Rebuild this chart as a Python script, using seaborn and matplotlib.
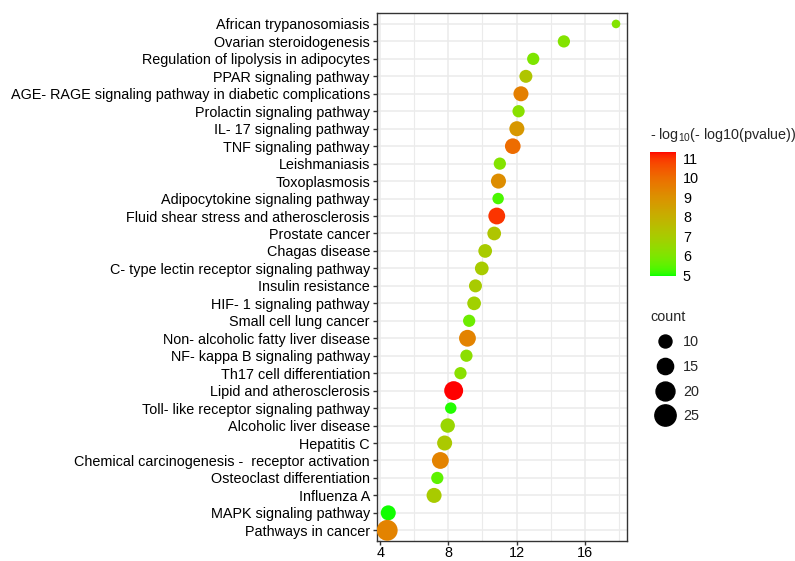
import numpy as np
import pandas as pd
import matplotlib
matplotlib.use("Agg")
import matplotlib.pyplot as plt
import seaborn as sns
from matplotlib.colors import ListedColormap, Normalize
from matplotlib.cm import ScalarMappable
from matplotlib.lines import Line2D

# --- Data ---
pathways = [
    "African trypanosomiasis", "Ovarian steroidogenesis",
    "Regulation of lipolysis in adipocytes", "PPAR signaling pathway",
    "AGE- RAGE signaling pathway in diabetic complications",
    "Prolactin signaling pathway", "IL- 17 signaling pathway",
    "TNF signaling pathway", "Leishmaniasis", "Toxoplasmosis",
    "Adipocytokine signaling pathway", "Fluid shear stress and atherosclerosis",
    "Prostate cancer", "Chagas disease",
    "C- type lectin receptor signaling pathway", "Insulin resistance",
    "HIF- 1 signaling pathway", "Small cell lung cancer",
    "Non- alcoholic fatty liver disease", "NF- kappa B signaling pathway",
    "Th17 cell differentiation", "Lipid and atherosclerosis",
    "Toll- like receptor signaling pathway", "Alcoholic liver disease",
    "Hepatitis C", "Chemical carcinogenesis -  receptor activation",
    "Osteoclast differentiation", "Influenza A", "MAPK signaling pathway",
    "Pathways in cancer",
]
enrichment = [17.84, 14.78, 12.98, 12.55, 12.26, 12.12, 12.02, 11.78, 11.02, 10.94,
              10.92, 10.84, 10.69, 10.16, 9.96, 9.59, 9.51, 9.22, 9.12, 9.06,
              8.71, 8.31, 8.14, 7.96, 7.78, 7.53, 7.35, 7.16, 4.47, 4.41]
counts = [5, 9, 9, 10, 13, 9, 13, 14, 9, 13,
          8, 16, 11, 11, 11, 10, 11, 9, 16, 9,
          9, 20, 8, 12, 13, 16, 9, 13, 13, 24]
score = [6.1, 6.1, 6.0, 7.2, 9.5, 6.2, 8.8, 10.0, 6.1, 9.1,
         5.3, 11.0, 7.2, 7.0, 7.0, 7.0, 6.8, 5.7, 9.4, 6.3,
         6.2, 11.35, 5.05, 6.6, 7.1, 9.4, 5.5, 7.0, 5.0, 9.4]

df = pd.DataFrame({"pathway": pathways, "x": enrichment,
                   "count": counts, "score": score})


# --- green -> red gradient interpolated in Lab, like ggplot ---
def srgb_to_lab(rgb):
    c = np.where(rgb > 0.04045, ((rgb + 0.055) / 1.055) ** 2.4, rgb / 12.92)
    m = np.array([[0.4124, 0.3576, 0.1805],
                  [0.2126, 0.7152, 0.0722],
                  [0.0193, 0.1192, 0.9505]])
    xyz = m @ c / np.array([0.95047, 1.0, 1.08883])
    f = np.where(xyz > 0.008856, np.cbrt(xyz), 7.787 * xyz + 16 / 116)
    return np.array([116 * f[1] - 16, 500 * (f[0] - f[1]), 200 * (f[1] - f[2])])


def lab_to_srgb(lab):
    fy = (lab[0] + 16) / 116
    f = np.array([fy + lab[1] / 500, fy, fy - lab[2] / 200])
    xyz = np.where(f > 0.2069, f ** 3, (f - 16 / 116) / 7.787)
    xyz = xyz * np.array([0.95047, 1.0, 1.08883])
    m_inv = np.array([[3.2406, -1.5372, -0.4986],
                      [-0.9689, 1.8758, 0.0415],
                      [0.0557, -0.2040, 1.0570]])
    c = m_inv @ xyz
    c = np.clip(c, 0, 1)
    return np.clip(np.where(c > 0.0031308, 1.055 * c ** (1 / 2.4) - 0.055, 12.92 * c), 0, 1)


lab_lo = srgb_to_lab(np.array([0.0, 1.0, 0.0]))
lab_hi = srgb_to_lab(np.array([1.0, 0.0, 0.0]))
grad = [lab_to_srgb(lab_lo + t * (lab_hi - lab_lo)) for t in np.linspace(0, 1, 256)]
cmap = ListedColormap(grad)
norm = Normalize(4.95, 11.35)

sns.set_theme(style="white")
plt.rcParams['font.family'] = ['Liberation Sans', 'DejaVu Sans']
plt.rcParams['mathtext.fontset'] = 'custom'
plt.rcParams['mathtext.rm'] = 'Liberation Sans'
plt.rcParams['mathtext.default'] = 'rm'

fs = 10.4

fig = plt.figure(figsize=(7.95, 5.61), dpi=100)
ax = fig.add_axes([0.474, 0.036, 0.315, 0.940])

sns.scatterplot(data=df, x="x", y="pathway", hue="score", size="count",
                palette=cmap, hue_norm=norm, sizes=(38.5, 235), size_norm=(5, 25),
                legend=False, edgecolor="none", ax=ax, zorder=3)

ax.set_ylim(len(pathways) - 0.4, -0.6)
ax.set_xlim(3.8, 18.5)
ax.set_xticks([4, 8, 12, 16])
ax.set_xticks([6, 10, 14, 18], minor=True)
ax.set_yticks(range(len(pathways)))
ax.set_yticklabels(pathways)
ax.grid(True, which="major", color="#EBEBEB", linewidth=1.1, zorder=0)
ax.grid(True, which="minor", axis="x", color="#EBEBEB", linewidth=0.8, zorder=0)
ax.set_axisbelow(True)
ax.set_xlabel("")
ax.set_ylabel("")
for s in ax.spines.values():
    s.set_color("#333333")
    s.set_linewidth(1.0)
ax.tick_params(axis="both", which="major", length=3, width=1, color="#333333",
               labelsize=fs, labelcolor="black", pad=2, left=True, bottom=True)
ax.tick_params(axis="x", which="major", pad=1)
ax.tick_params(axis="x", which="minor", length=0)

# --- Colour bar ---
cax = fig.add_axes([0.8176, 0.508, 0.0327, 0.2216])
cb = fig.colorbar(ScalarMappable(norm=norm, cmap=cmap), cax=cax)
cb.set_ticks([5, 6, 7, 8, 9, 10, 11])
cb.outline.set_visible(False)
cax.tick_params(direction="in", length=3.5, width=0.8, colors="white",
                left=True, right=True, labelcolor="black", labelsize=fs, pad=5)
fig.text(0.8176, 1 - 135 / 561, r"- log$_{10}$(- log10(pvalue))",
         ha="left", va="center", fontsize=fs)

# --- Size legend ---
size_vals = [10, 15, 20, 25]
handles = [Line2D([], [], marker="o", linestyle="", color="black",
                  markersize=np.sqrt(38.5 + (v - 5) / 20 * (235 - 38.5)))
           for v in size_vals]
leg = fig.legend(handles, [str(v) for v in size_vals], title="count",
                 loc="upper left", bbox_to_anchor=(0.805, 1 - 300 / 561),
                 frameon=False, fontsize=fs, title_fontsize=fs,
                 labelspacing=0.75, handletextpad=0.3, borderpad=0.2,
                 alignment="left")

fig.savefig("out.png", dpi=100)
